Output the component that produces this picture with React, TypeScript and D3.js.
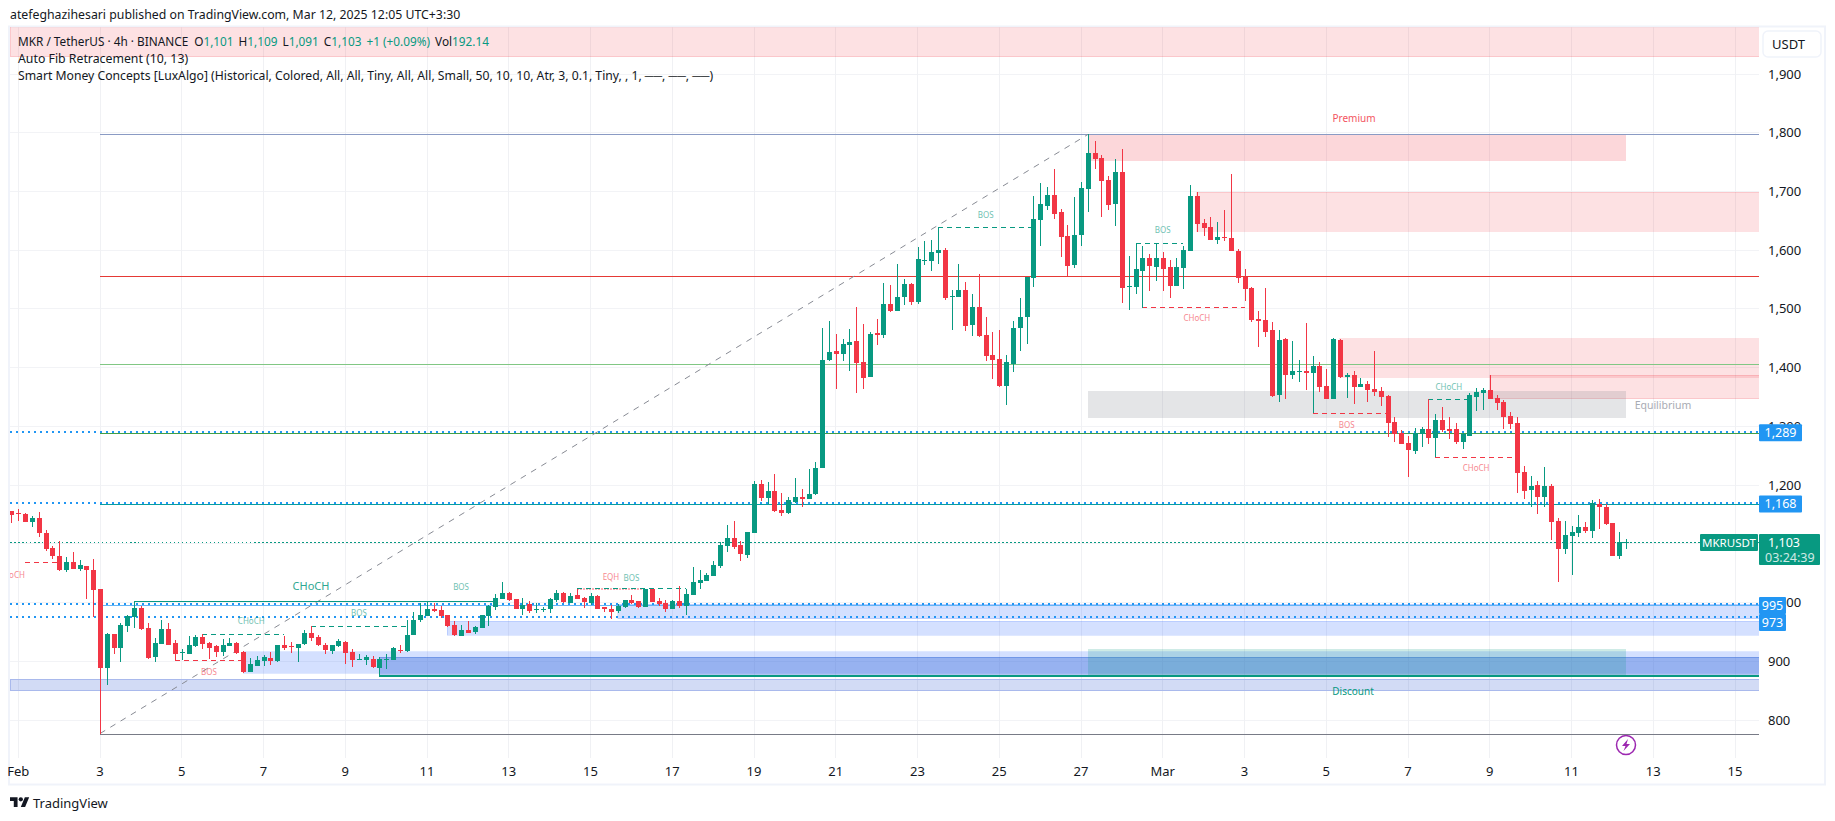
import * as d3 from "d3";
import { useLayoutEffect } from "react";

const W = 1835;
const H = 821;
const GREEN = "#089981";
const RED = "#F23645";
const BLUE = "#2196f3";
const FONT = "'Noto Sans', 'Open Sans', sans-serif";

// 4h bars, first bar sits 13 bars before Feb 3 00:00
const firstBar = -13;
const opens = [
  1156,1152,1151,1138,1144,1118,1093,1079,1055,1069,1057,1062,1055,
  1023,888,946,923,960,975,991,957,907,929,
  955,931,914,912,926,941,931,926,916,926,
  931,916,882,892,900,906,900,928,926,923,
  929,948,941,928,917,926,933,916,902,902,
  904,889,902,902,920,917,945,970,977,989,
  987,979,962,943,953,950,957,977,992,1006,
  1016,1006,989,997,987,987,989,1004,1016,1000,
  1013,1008,1000,1011,992,989,986,992,1004,1003,
  992,1023,1003,1000,989,1003,994,1013,1033,1037,
  1045,1062,1096,1110,1098,1081,1118,1202,1178,1190,
  1157,1152,1171,1180,1176,1185,1229,1413,1428,1423,
  1439,1445,1410,1384,1459,1456,1508,1496,1520,1542,
  1512,1582,1582,1595,1600,1520,1520,1532,1473,1503,
  1456,1422,1415,1369,1406,1467,1486,1553,1651,1675,
  1694,1665,1624,1575,1626,1704,1765,1757,1719,1679,
  1733,1537,1537,1565,1587,1571,1587,1571,1539,1570,
  1599,1692,1646,1639,1617,1622,1621,1599,1554,1536,
  1483,1481,1464,1353,1449,1387,1393,1394,1391,1403,
  1369,1347,1447,1384,1387,1367,1372,1364,1360,1352,
  1307,1289,1272,1258,1287,1295,1280,1311,1295,1295,
  1273,1284,1350,1357,1362,1348,1341,1318,1306,1222,
  1192,1200,1180,1198,1139,1091,1113,1118,1129,1122,
  1168,1163,1135,1079,1101,
];
const highs = [
  1156,1159,1152,1147,1154,1123,1097,1105,1077,1086,1072,1062,1074,
  1023,948,946,966,979,1002,994,965,940,970,
  965,936,921,943,945,946,933,928,938,940,
  933,917,905,909,911,916,928,943,932,930,
  953,960,945,931,928,938,934,921,912,911,
  909,907,912,924,928,970,984,1000,1002,1000,
  994,979,969,962,969,960,979,996,1015,1035,
  1018,1006,1008,1003,1000,992,1008,1021,1018,1016,
  1023,1009,1016,1013,992,996,997,1004,1013,1003,
  1023,1023,1008,1004,1004,1028,1023,1060,1055,1050,
  1071,1103,1132,1139,1105,1120,1207,1209,1205,1219,
  1186,1180,1212,1193,1228,1240,1467,1479,1457,1449,
  1466,1503,1474,1461,1483,1544,1541,1576,1551,1544,
  1605,1616,1617,1639,1604,1532,1576,1546,1525,1559,
  1486,1461,1464,1422,1479,1518,1554,1692,1714,1708,
  1738,1670,1643,1690,1716,1797,1786,1762,1726,1755,
  1772,1590,1612,1607,1593,1612,1597,1583,1587,1607,
  1711,1699,1653,1656,1648,1668,1730,1602,1568,1537,
  1496,1536,1478,1464,1450,1445,1413,1476,1420,1410,
  1398,1450,1449,1391,1394,1382,1377,1428,1367,1353,
  1316,1294,1284,1297,1299,1346,1321,1333,1316,1306,
  1289,1357,1365,1365,1387,1353,1345,1324,1316,1232,
  1215,1207,1231,1202,1144,1139,1130,1149,1137,1175,
  1176,1168,1135,1120,1109,
];
const lows = [
  1136,1139,1138,1129,1112,1088,1075,1054,1052,1057,1054,1006,975,
  777,860,912,899,950,957,953,904,899,929,
  928,902,902,912,924,921,904,907,909,926,
  912,880,882,892,892,894,899,919,914,899,
  928,934,926,912,912,924,895,890,902,894,
  889,880,887,902,914,916,945,967,977,984,
  974,958,943,943,948,946,957,960,987,1006,
  1003,989,979,982,982,984,982,1001,1000,1000,
  1006,991,996,989,984,972,982,991,997,991,
  992,1001,994,984,989,991,979,1013,1023,1037,
  1045,1059,1086,1091,1071,1076,1118,1173,1168,1154,
  1147,1151,1169,1163,1176,1183,1229,1411,1364,1411,
  1394,1357,1364,1384,1439,1450,1495,1496,1507,1507,
  1508,1575,1564,1576,1515,1464,1520,1462,1454,1452,
  1411,1381,1367,1336,1393,1428,1440,1537,1607,1668,
  1653,1588,1556,1570,1607,1665,1738,1656,1668,1641,
  1510,1498,1525,1502,1530,1547,1530,1518,1539,1534,
  1599,1631,1624,1617,1610,1616,1599,1544,1513,1478,
  1435,1452,1350,1342,1347,1380,1375,1362,1322,1358,
  1347,1347,1382,1348,1338,1367,1342,1352,1335,1282,
  1273,1270,1214,1253,1265,1270,1247,1290,1278,1270,
  1261,1284,1326,1328,1347,1328,1295,1295,1187,1176,
  1163,1151,1163,1106,1035,1083,1047,1112,1118,1110,
  1125,1132,1079,1074,1091,
];
const closes = [
  1149,1150,1138,1144,1119,1091,1079,1055,1069,1057,1064,1055,1021,
  888,946,923,962,977,991,955,905,931,955,
  928,912,916,928,941,929,923,916,928,931,
  914,882,895,902,907,900,928,923,925,930,
  948,940,928,919,928,934,914,902,904,907,
  890,904,904,923,917,945,970,979,989,986,
  977,960,945,953,948,958,979,994,1008,1016,
  1004,989,996,986,989,989,1006,1016,1001,1011,
  1006,1001,1011,989,989,984,994,1004,1000,992,
  1023,1001,997,989,1003,994,1015,1035,1038,1047,
  1064,1098,1110,1095,1083,1120,1202,1178,1190,1156,
  1152,1175,1180,1176,1185,1229,1413,1427,1423,1440,
  1444,1408,1382,1457,1456,1508,1496,1520,1542,1512,
  1585,1583,1597,1600,1518,1522,1532,1471,1503,1454,
  1420,1413,1369,1410,1467,1486,1554,1653,1679,1694,
  1662,1622,1573,1626,1706,1765,1755,1718,1677,1733,
  1536,1539,1568,1587,1573,1587,1568,1539,1571,1600,
  1692,1645,1638,1617,1622,1621,1599,1553,1534,1481,
  1479,1461,1352,1447,1387,1394,1394,1391,1403,1367,
  1347,1449,1384,1387,1367,1372,1362,1359,1350,1306,
  1287,1270,1260,1289,1295,1280,1311,1294,1292,1273,
  1287,1353,1358,1362,1347,1340,1316,1304,1221,1190,
  1198,1180,1198,1137,1091,1115,1120,1129,1122,1169,
  1163,1134,1079,1103,1103,
];

const yTicks = [800, 900, 1000, 1100, 1200, 1300, 1400, 1500, 1600, 1700, 1800, 1900];
// day of month counted from Feb 1 (Mar 1 = 28)
const xTickDays = [0, 2, 4, 6, 8, 10, 12, 14, 16, 18, 20, 22, 24, 26, 28, 30, 32, 34, 36, 38, 40, 42];
const xTickLabels = ["Feb", "3", "5", "7", "9", "11", "13", "15", "17", "19", "21", "23", "25", "27", "Mar", "3", "5", "7", "9", "11", "13", "15"];

// Auto fib retracement levels, drawn from the Feb 3 low
const fibLevels = [1797, 1556, 1407, 1289, 1168, 995, 777];
const fibColors = ["#8a9bc4", "#e53935", "#81c784", "#43a047", "#089ea0", "#64b5f6", "#787b86"];

// Price alerts with blue dotted lines
const alertLevels = [1289, 1168, 995, 973];

// Boxes: [start bar, end bar or null for the right edge, top, bottom, kind]
const zoneStart = [null, 145, 161, 182, 204, 145, 21, 76, 51, 41, null, 145];
const zoneEnd = [null, 224, null, null, null, 224, null, null, null, null, null, 224];
const zoneTop = [1990, 1797, 1699, 1449, 1387, 1360, 916, 997, 968, 907, 869, 921];
const zoneBottom = [1929, 1752, 1632, 1384, 1347, 1315, 880, 972, 944, 875, 851, 875];
const zoneKind = ["ob", "premium", "ob", "ob", "ob", "eq", "demand", "demand", "demand", "deep", "low", "disc"];

// Market structure breaks: dashed segment plus its tag
const breakStart = [-11, 15, 11, 31, 70, 70, 123, 152, 153, 178, 195, 196];
const breakEnd = [-6, 27, 21, 45, 80, 86, 137, 159, 168, 189, 201, 208];
const breakPrice = [1068, 945.5, 901, 959.5, 1023.5, 1023.5, 1638.5, 1611.5, 1502.5, 1322, 1346, 1247];
const breakSide = ["bear", "bull", "bear", "bull", "eqh", "bull", "bull", "bull", "bear", "bear", "bull", "bear"];
const breakLabel = ["CHoCH", "CHoCH", "BOS", "BOS", "EQH", "BOS", "BOS", "BOS", "CHoCH", "BOS", "CHoCH", "CHoCH"];
const breakLabelBar = [-13, 22.2, 16, 38, 75, 78, 130, 156, 161, 183, 198, 202];
const breakLabelPrice = [1047, 969, 882, 982, 1044, 1042, 1659, 1634, 1484, 1302, 1366, 1229];

const zoneStyles: Record<string, { fill: string; stroke: string }> = {
  ob: { fill: "rgba(242,54,69,0.15)", stroke: "rgba(242,54,69,0.15)" },
  premium: { fill: "rgba(242,54,69,0.2)", stroke: "none" },
  eq: { fill: "rgba(120,123,134,0.2)", stroke: "none" },
  demand: { fill: "rgba(41,98,255,0.2)", stroke: "rgba(41,98,255,0.15)" },
  deep: { fill: "rgba(60,109,217,0.4)", stroke: "rgba(60,109,217,0.4)" },
  low: { fill: "rgba(50,90,210,0.22)", stroke: "#a9b9ec" },
  disc: { fill: "rgba(8,153,129,0.2)", stroke: "none" },
};

const plot = { left: 10, right: 1759, top: 27, bottom: 758 };
const DAY = 86400000;
const feb1 = Date.UTC(2025, 1, 1);
const feb3 = Date.UTC(2025, 1, 3);
const barTime = (i: number) => feb3 + (i * DAY) / 6;

const x = d3.scaleUtc().domain([feb1, Date.UTC(2025, 2, 15)]).range([18.3, 1735]);
const y = d3.scaleLinear().domain([800, 1900]).range([720, 74]);
const bx = (i: number) => x(barTime(i));
const fmt = d3.format(",");

function Tag({ cy, w, text }: { cy: number; w: number; text: string }) {
  return (
    <g>
      <rect x={1759} y={cy - 8.5} width={w} height={17} fill={BLUE} rx={1} />
      <text x={1759 + w / 2} y={cy + 4.5} textAnchor="middle" fontSize={12.5} fill="#fff">{text}</text>
    </g>
  );
}

export default function App() {
  useLayoutEffect(() => {
    document.body.style.margin = "0";
  }, []);

  const bars = opens.map((o, k) => ({
    i: firstBar + k,
    o,
    h: highs[k],
    l: lows[k],
    c: closes[k],
  }));

  return (
    <svg width={W} height={H} style={{ display: "block", background: "#fff" }} fontFamily={FONT}>
      <defs>
        <clipPath id="plot">
          <rect x={plot.left} y={plot.top} width={plot.right - plot.left} height={plot.bottom - plot.top} />
        </clipPath>
      </defs>

      <text x={10} y={19} fontSize={12.3} fill="#131722">atefeghazihesari published on TradingView.com, Mar 12, 2025 12:05 UTC+3:30</text>

      {/* frame */}
      <rect x={9} y={26.5} width={1816} height={758} fill="none" stroke="#f0f3fa" strokeWidth={2} />

      {/* grid */}
      <g shapeRendering="crispEdges">
        {yTicks.map((t) => (
          <line key={t} x1={plot.left} x2={plot.right} y1={y(t)} y2={y(t)} stroke="#f2f3f6" />
        ))}
        {xTickDays.map((d) => (
          <line key={d} x1={x(feb1 + d * DAY)} x2={x(feb1 + d * DAY)} y1={plot.top} y2={plot.bottom} stroke="#f0f1f4" />
        ))}
      </g>

      <g clipPath="url(#plot)">
        {/* zones */}
        <g shapeRendering="crispEdges">
          {zoneTop.map((t, k) => {
            const s = zoneStyles[zoneKind[k]];
            const x0 = zoneStart[k] === null ? plot.left : bx(zoneStart[k] as number);
            const x1 = zoneEnd[k] === null ? plot.right : bx(zoneEnd[k] as number);
            return (
              <rect key={k} x={x0} y={y(t)} width={x1 - x0} height={y(zoneBottom[k]) - y(t)} fill={s.fill} stroke={s.stroke} />
            );
          })}
        </g>

        {/* fib levels, snapped to whole pixels */}
        <g shapeRendering="crispEdges">
          {fibLevels.map((p, k) => {
            const py = Math.round(y(p)) + 0.5;
            return <line key={p} x1={bx(0)} x2={plot.right} y1={py} y2={py} stroke={fibColors[k]} />;
          })}
        </g>
        <line x1={bx(0)} y1={y(777)} x2={bx(145)} y2={y(1797)} stroke="#888b94" strokeDasharray="6 6" />

        {/* CHoCH of Feb 3 */}
        <g shapeRendering="crispEdges">
          <path d={`M${bx(5)},${y(1001.5)}H${bx(58)}`} fill="none" stroke={GREEN} />
          <path d={`M${bx(41)},${y(907)}V${y(875)}H${plot.right}`} fill="none" stroke={GREEN} strokeWidth={1.5} />
        </g>
        <text x={bx(0) + 211} y={y(1001.5) - 12} textAnchor="middle" fontSize={11} fill={GREEN} opacity={0.85}>CHoCH</text>

        {/* dotted alert and last price lines */}
        <g shapeRendering="crispEdges">
          {alertLevels.map((p) => {
            const py = Math.round(y(p)) - 1;
            return <line key={p} x1={plot.left} x2={plot.right} y1={py} y2={py} stroke={BLUE} strokeWidth={2} strokeDasharray="2 4" />;
          })}
          <line x1={plot.left} x2={plot.right} y1={y(1103)} y2={y(1103)} stroke={GREEN} strokeDasharray="1.5 2.5" />
        </g>

        {/* structure breaks */}
        {breakStart.map((s, k) => {
          const side = breakSide[k];
          const col = side === "bull" ? GREEN : RED;
          return (
            <g key={k}>
              <line
                x1={bx(s)}
                x2={bx(breakEnd[k])}
                y1={y(breakPrice[k])}
                y2={y(breakPrice[k])}
                stroke={col}
                shapeRendering="crispEdges"
                strokeDasharray={side === "eqh" ? "2 1" : "5 4"}
                opacity={side === "eqh" ? 0.4 : 1}
                strokeWidth={side === "eqh" ? 2 : 1}
              />
              <text
                x={bx(breakLabelBar[k])}
                y={y(breakLabelPrice[k])}
                textAnchor="middle"
                dy="0.35em"
                fontSize={8}
                fill={col}
                opacity={0.6}
              >
                {breakLabel[k]}
              </text>
            </g>
          );
        })}
        <text x={bx(53)} y={y(1022)} textAnchor="middle" fontSize={8} fill={GREEN} opacity={0.6}>BOS</text>

        {/* candles */}
        <g shapeRendering="crispEdges">
          {bars.map((b) => {
            const col = b.c >= b.o ? GREEN : RED;
            const top = y(Math.max(b.o, b.c));
            const bot = y(Math.min(b.o, b.c));
            const cx = Math.round(bx(b.i)) + 0.5;
            return (
              <g key={b.i}>
                <line x1={cx} x2={cx} y1={y(b.h)} y2={y(b.l)} stroke={col} />
                <rect x={cx - 2.5} y={top} width={5} height={Math.max(bot - top, 1)} fill={col} />
              </g>
            );
          })}
        </g>

        {/* zone captions */}
        <text x={1354} y={y(1825)} dy="0.35em" textAnchor="middle" fontSize={10} fill={RED} opacity={0.85}>Premium</text>
        <text x={1663} y={y(1336)} dy="0.35em" textAnchor="middle" fontSize={10.5} fill="#a8abb3">Equilibrium</text>
        <text x={1353} y={y(849)} dy="0.35em" textAnchor="middle" fontSize={10} fill={GREEN}>Discount</text>
      </g>

      {/* legend */}
      <g fill="#131722">
        <text x={18} y={46} fontSize={11.8}>
          MKR / TetherUS · 4h · BINANCE
          <tspan dx={6}>O</tspan><tspan fill={GREEN}>1,101</tspan>
          <tspan dx={5}>H</tspan><tspan fill={GREEN}>1,109</tspan>
          <tspan dx={5}>L</tspan><tspan fill={GREEN}>1,091</tspan>
          <tspan dx={5}>C</tspan><tspan fill={GREEN}>1,103</tspan>
          <tspan dx={5} fill={GREEN}>+1 (+0.09%)</tspan>
          <tspan dx={5}>Vol</tspan><tspan fill={GREEN}>192.14</tspan>
        </text>
        <text x={18} y={63} fontSize={12.3}>Auto Fib Retracement (10, 13)</text>
        <text x={18} y={80} fontSize={12.2}>Smart Money Concepts [LuxAlgo] (Historical, Colored, All, All, Tiny, All, All, Small, 50, 10, 10, Atr, 3, 0.1, Tiny, , 1, ──, ──, ──)</text>
      </g>

      {/* price axis */}
      <rect x={1763} y={31} width={58} height={26} rx={5} fill="#fff" stroke="#f0f3fa" strokeWidth={1.5} />
      <text x={1772} y={49} fontSize={13} fill="#131722">USDT</text>
      {yTicks.map((t) => (
        <text key={t} x={1768} y={y(t) + 4.5} fontSize={13} fill="#131722">{fmt(t)}</text>
      ))}
      <Tag cy={y(1289)} w={43} text="1,289" />
      <Tag cy={y(1168)} w={43} text="1,168" />
      <Tag cy={605.5} w={27} text="995" />
      <Tag cy={622.5} w={27} text="973" />

      {/* last price */}
      <rect x={1700} y={534} width={58} height={17} fill={GREEN} rx={1} />
      <text x={1729} y={547} textAnchor="middle" fontSize={11.5} fill="#fff">MKRUSDT</text>
      <rect x={1759} y={534} width={61} height={31} fill={GREEN} rx={1} />
      <text x={1768} y={547} fontSize={12.5} fill="#fff">1,103</text>
      <text x={1765} y={562} fontSize={12.5} fill="#fff" opacity={0.8}>03:24:39</text>

      {/* time axis */}
      {xTickDays.map((d, k) => (
        <text key={d} x={x(feb1 + d * DAY)} y={776} textAnchor="middle" fontSize={13} fill="#131722">{xTickLabels[k]}</text>
      ))}

      {/* real-time data flash */}
      <circle cx={1626} cy={745} r={9.5} fill="#fff" stroke="#9c27b0" strokeWidth={1.5} />
      <path d="M1628,739 L1622,746 H1625.5 L1623.5,751 L1630,744 H1626.5 Z" fill="#9c27b0" />

      {/* logo */}
      <g transform="translate(10,795) scale(0.54)" fill="#131722">
        <path d="M14 22H7V11H0V4h14v18zM28 22h-8l7.5-18h8L28 22z" />
        <circle cx={20} cy={8} r={4} />
      </g>
      <text x={33} y={808} fontSize={13} fill="#131722">TradingView</text>
    </svg>
  );
}
